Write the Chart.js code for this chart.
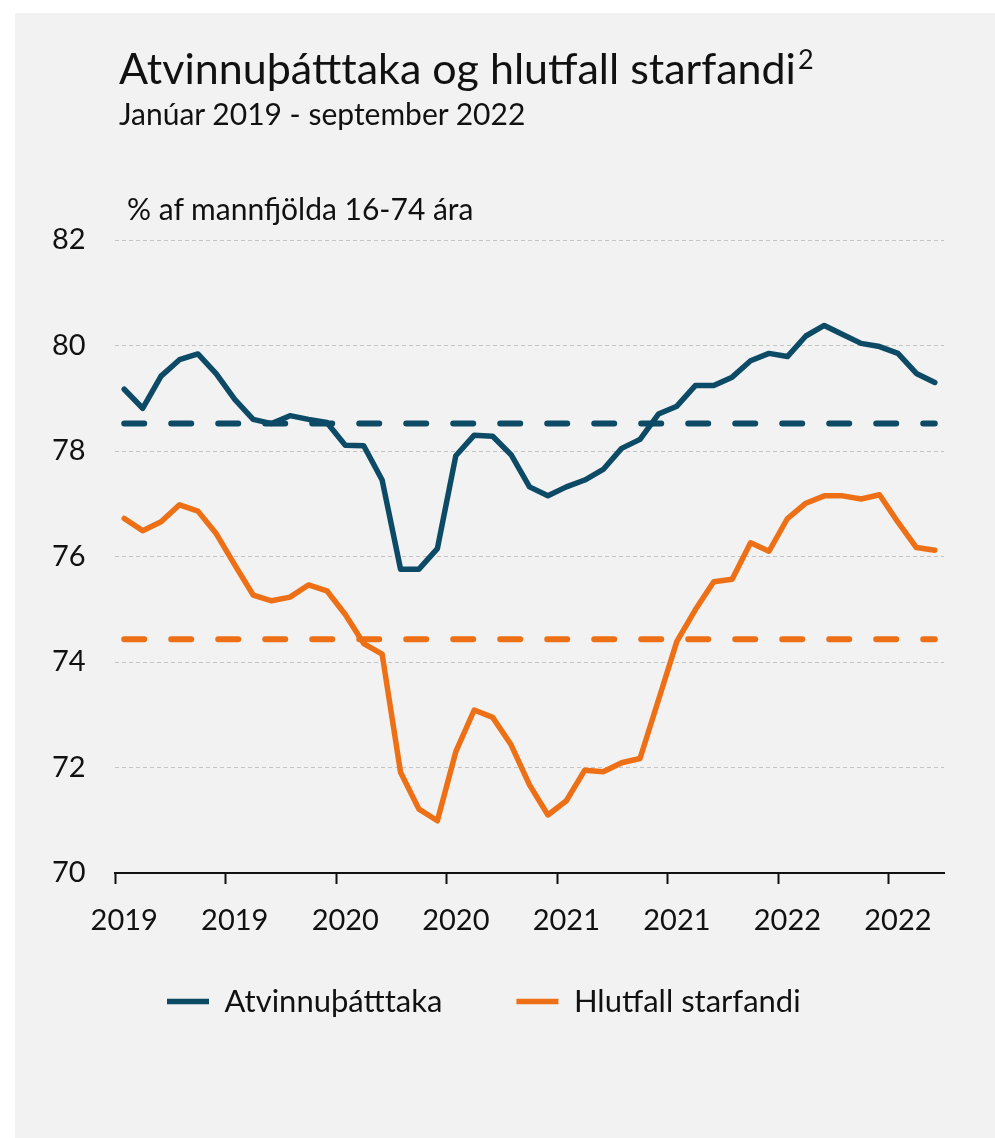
<!DOCTYPE html>
<html>
<head>
<meta charset="utf-8">
<script src="https://cdn.jsdelivr.net/npm/chart.js@4"></script>
<style>
  body { margin: 0; background: #fff; font-family: Lato, sans-serif; color: #111; }
  #panel { position: absolute; left: 15px; top: 13px; width: 980px; height: 1125px; background: #f2f2f2; }
  .txt { position: absolute; white-space: nowrap; line-height: 1.2; }
  #title { left: 104px; top: 29px; font-size: 43px; }
  #title .sup { font-size: 27px; position: relative; top: -15px; margin-left: 2px; }
  #subtitle { left: 104px; top: 82px; font-size: 30px; }
  #unit { left: 112px; top: 177px; font-size: 30px; }
  #chart { position: absolute; left: 0; top: 0; }
</style>
</head>
<body>
<div id="panel">
  <canvas id="chart" width="980" height="1125"></canvas>
  <div class="txt" id="title">Atvinnuþátttaka og hlutfall starfandi<span class="sup">2</span></div>
  <div class="txt" id="subtitle">Janúar 2019 - september 2022</div>
  <div class="txt" id="unit">% af mannfjölda 16-74 ára</div>
</div>
<script>
// months, Jan 2019 - Sep 2022
const months = [
  "2019-01", "2019-02", "2019-03", "2019-04", "2019-05", "2019-06",
  "2019-07", "2019-08", "2019-09", "2019-10", "2019-11", "2019-12",
  "2020-01", "2020-02", "2020-03", "2020-04", "2020-05", "2020-06",
  "2020-07", "2020-08", "2020-09", "2020-10", "2020-11", "2020-12",
  "2021-01", "2021-02", "2021-03", "2021-04", "2021-05", "2021-06",
  "2021-07", "2021-08", "2021-09", "2021-10", "2021-11", "2021-12",
  "2022-01", "2022-02", "2022-03", "2022-04", "2022-05", "2022-06",
  "2022-07", "2022-08", "2022-09"
];

const atvinnuthatttaka = [
  79.17, 78.81, 79.42, 79.73, 79.84, 79.46, 78.98, 78.60, 78.52, 78.67, 78.60, 78.54,
  78.11, 78.10, 77.45, 75.76, 75.76, 76.15, 77.91, 78.30, 78.28, 77.93, 77.32, 77.15,
  77.32, 77.45, 77.65, 78.05, 78.22, 78.70, 78.85, 79.24, 79.24, 79.40, 79.71, 79.85,
  79.79, 80.18, 80.38, 80.21, 80.04, 79.98, 79.85, 79.47, 79.30
];

const hlutfallStarfandi = [
  76.72, 76.49, 76.66, 76.98, 76.86, 76.43, 75.84, 75.27, 75.16, 75.23, 75.46, 75.35,
  74.90, 74.35, 74.15, 71.91, 71.21, 70.99, 72.30, 73.09, 72.95, 72.43, 71.67, 71.10,
  71.37, 71.95, 71.92, 72.09, 72.17, 73.28, 74.39, 74.99, 75.52, 75.57, 76.26, 76.10,
  76.72, 77.01, 77.15, 77.15, 77.09, 77.17, 76.65, 76.17, 76.12
];

// period averages (dashed lines)
const avgAtvinnu = 78.52;
const avgStarfandi = 74.43;

const seriesNames = ["Atvinnuþátttaka", "Hlutfall starfandi"];
const blue = "#0c4a66";
const orange = "#ed7016";

// x labels: the year, shown every 6th month
function xLabel(i) {
  return i % 6 === 0 ? months[i].slice(0, 4) : "";
}

Chart.defaults.font.family = "Lato, sans-serif";
Chart.defaults.color = "#111";

const first = months[0];
const last = months[months.length - 1];

new Chart(document.getElementById("chart"), {
  type: "line",
  data: {
    labels: months,
    datasets: [
      {
        label: seriesNames[0],
        data: atvinnuthatttaka,
        borderColor: blue,
        backgroundColor: blue,
        borderWidth: 5.5,
        pointRadius: 0,
        borderJoinStyle: "round",
        borderCapStyle: "round"
      },
      {
        label: seriesNames[1],
        data: hlutfallStarfandi,
        borderColor: orange,
        backgroundColor: orange,
        borderWidth: 5.5,
        pointRadius: 0,
        borderJoinStyle: "round",
        borderCapStyle: "round"
      },
      {
        label: "avg1",
        data: [{ x: first, y: avgAtvinnu }, { x: last, y: avgAtvinnu }],
        borderColor: blue,
        borderWidth: 6,
        borderDash: [20, 27],
        borderCapStyle: "round",
        pointRadius: 0
      },
      {
        label: "avg2",
        data: [{ x: first, y: avgStarfandi }, { x: last, y: avgStarfandi }],
        borderColor: orange,
        borderWidth: 6,
        borderDash: [20, 27],
        borderCapStyle: "round",
        pointRadius: 0
      }
    ]
  },
  options: {
    responsive: false,
    animation: false,
    layout: { padding: { left: 78, right: 51, top: 227, bottom: 111 } },
    plugins: {
      tooltip: { enabled: false },
      legend: {
        position: "bottom",
        align: "start",
        labels: {
          filter: (item) => item.datasetIndex < 2,
          usePointStyle: true,
          pointStyle: "line",
          pointStyleWidth: 42,
          padding: 74,
          font: { size: 31 },
          color: "#111"
        }
      }
    },
    scales: {
      x: {
        offset: true,
        grid: {
          offset: true,
          drawOnChartArea: false,
          drawTicks: true,
          tickLength: 11,
          tickWidth: 2,
          tickColor: (ctx) => (ctx.index % 6 === 0 ? "#111" : "rgba(0,0,0,0)")
        },
        border: { display: true, color: "#111", width: 2 },
        ticks: {
          autoSkip: false,
          maxRotation: 0,
          mirror: true,
          padding: -65,
          font: { size: 29 },
          callback: (v, i) => xLabel(i)
        },
        afterFit: (scale) => { scale.height = 39; }
      },
      y: {
        min: 70,
        max: 82,
        ticks: { stepSize: 2, mirror: true, padding: -63, font: { size: 29 } },
        grid: { color: "#c4c4c4", lineWidth: 1, drawTicks: false },
        border: { display: false, dash: [4, 3] },
        afterFit: (scale) => { scale.width = 22; }
      }
    }
  }
});
</script>
</body>
</html>
